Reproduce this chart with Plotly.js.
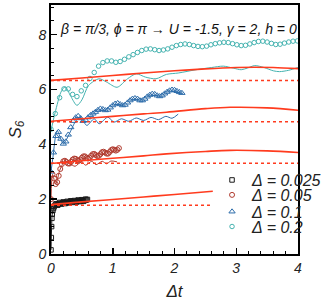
<!DOCTYPE html>
<html><head><meta charset="utf-8">
<script src="https://cdn.plot.ly/plotly-3.0.1.min.js"></script>
<style>html,body{margin:0;padding:0;background:#fff}#chart{width:332px;height:307px}</style>
</head><body><div id="chart"></div>
<script>
const legendLabels = ['Δ = 0.025', 'Δ = 0.05', 'Δ = 0.1', 'Δ = 0.2'];

// Δ = 0.025 (black squares)
const blackT = [0, 0.005, 0.01, 0.015, 0.02, 0.03, 0.04, 0.05, 0.065, 0.08, 0.095, 0.11, 0.125, 0.14, 0.155, 0.17, 0.185, 0.2, 0.215, 0.23, 0.245, 0.26, 0.275, 0.29, 0.305, 0.32, 0.335, 0.35, 0.365, 0.38, 0.395, 0.41, 0.425, 0.44, 0.455, 0.47, 0.485, 0.5, 0.515, 0.53, 0.545, 0.56, 0.575, 0.59];
const blackS = [0.15, 0.6, 1.0, 1.3, 1.45, 1.58, 1.66, 1.72, 1.78, 1.83, 1.80, 1.78, 1.84, 1.88, 1.84, 1.82, 1.86, 1.90, 1.87, 1.84, 1.88, 1.92, 1.89, 1.86, 1.90, 1.94, 1.91, 1.88, 1.92, 1.95, 1.92, 1.89, 1.93, 1.97, 1.94, 1.91, 1.95, 1.98, 1.95, 1.92, 1.96, 2.0, 1.97, 1.99];
const blackLineT = [0, 0.01, 0.02, 0.05, 0.1, 0.2, 0.3, 0.4, 0.5, 0.6];
const blackLineS = [0.15, 1.0, 1.45, 1.7, 1.8, 1.83, 1.85, 1.86, 1.87, 1.88];
const blackFitT = [0, 0.5, 1, 1.5, 2, 2.62];
const blackFitS = [1.80, 1.90, 1.99, 2.08, 2.17, 2.29];
const blackRefT = [0, 2.62];
const blackRefS = [1.78, 1.78];

// Δ = 0.05 (dark red circles)
const redT = [0, 0.025, 0.05, 0.075, 0.1, 0.125, 0.15, 0.175, 0.2, 0.225, 0.25, 0.275, 0.3, 0.325, 0.35, 0.375, 0.4, 0.425, 0.45, 0.475, 0.5, 0.525, 0.55, 0.575, 0.6, 0.625, 0.65, 0.675, 0.7, 0.725, 0.75, 0.775, 0.8, 0.825, 0.85, 0.875, 0.9, 0.925, 0.95, 0.975, 1.0, 1.025, 1.05, 1.075, 1.1];
const redS = [2.00, 2.90, 2.75, 2.55, 2.62, 2.85, 3.10, 3.28, 3.38, 3.40, 3.36, 3.30, 3.30, 3.36, 3.44, 3.48, 3.47, 3.42, 3.40, 3.44, 3.51, 3.56, 3.56, 3.51, 3.48, 3.51, 3.58, 3.64, 3.65, 3.61, 3.57, 3.58, 3.64, 3.71, 3.73, 3.70, 3.66, 3.66, 3.72, 3.79, 3.82, 3.80, 3.77, 3.80, 3.86];
const redLineT = [0, 0.025, 0.075, 0.15, 0.225, 0.3, 0.39, 0.49, 0.56, 0.66, 0.73, 0.83, 0.9, 0.97, 1.07];
const redLineS = [2.0, 2.9, 2.55, 3.1, 3.38, 3.3, 3.2, 3.36, 3.24, 3.38, 3.26, 3.38, 3.29, 3.39, 3.36];
const redFitT = [0, 0.5, 1, 1.5, 1.87, 2.5, 2.9, 3.5, 4];
const redFitS = [3.30, 3.40, 3.49, 3.58, 3.65, 3.74, 3.78, 3.76, 3.70];
const redRefT = [0, 4];
const redRefS = [3.31, 3.31];

// Δ = 0.1 (blue triangles)
const blueT = [0, 0.04, 0.08, 0.12, 0.16, 0.2, 0.24, 0.28, 0.32, 0.36, 0.4, 0.44, 0.48, 0.52, 0.56, 0.6, 0.64, 0.68, 0.72, 0.76, 0.8, 0.84, 0.88, 0.92, 0.96, 1.0, 1.04, 1.08, 1.12, 1.16, 1.2, 1.24, 1.28, 1.32, 1.36, 1.4, 1.44, 1.48, 1.52, 1.56, 1.6, 1.64, 1.68, 1.72, 1.76, 1.8, 1.84, 1.88, 1.92, 1.96, 2.0, 2.04, 2.08, 2.12];
const blueS = [3.00, 3.70, 4.30, 4.45, 4.20, 4.02, 4.10, 4.35, 4.62, 4.85, 4.98, 5.03, 4.95, 4.85, 4.88, 4.98, 5.06, 5.12, 5.18, 5.25, 5.30, 5.28, 5.24, 5.26, 5.34, 5.42, 5.48, 5.50, 5.46, 5.42, 5.44, 5.52, 5.60, 5.66, 5.68, 5.66, 5.60, 5.60, 5.66, 5.74, 5.80, 5.84, 5.83, 5.78, 5.75, 5.78, 5.85, 5.91, 5.96, 5.99, 5.98, 5.94, 5.90, 5.87];
const blueLineT = [0, 0.03, 0.1, 0.2, 0.3, 0.41, 0.49, 0.58, 0.7, 0.78, 0.92, 1.02, 1.14, 1.26, 1.38, 1.5, 1.62, 1.74, 1.86, 1.96, 2.06];
const blueLineS = [3.0, 3.5, 4.5, 4.02, 4.4, 4.87, 4.93, 4.69, 4.93, 4.75, 4.99, 4.81, 4.93, 4.84, 4.96, 4.87, 4.98, 4.90, 5.02, 4.95, 5.10];
const blueFitT = [0, 0.5, 1, 1.5, 1.87, 2.5, 2.9, 3.5, 4];
const blueFitS = [4.84, 4.93, 5.02, 5.11, 5.17, 5.30, 5.35, 5.33, 5.24];
const blueRefT = [0, 4];
const blueRefS = [4.82, 4.82];

// Δ = 0.2 (teal circles)
const tealT = [0, 0.07, 0.14, 0.21, 0.28, 0.35, 0.42, 0.49, 0.56, 0.63, 0.7, 0.77, 0.84, 0.91, 0.98, 1.05, 1.12, 1.19, 1.26, 1.33, 1.4, 1.47, 1.54, 1.61, 1.68, 1.75, 1.82, 1.89, 1.96, 2.03, 2.1, 2.17, 2.24, 2.31, 2.38, 2.45, 2.52, 2.59, 2.66, 2.73, 2.8, 2.87, 2.94, 3.01, 3.08, 3.15, 3.22, 3.29, 3.36, 3.43, 3.5, 3.57, 3.64, 3.71, 3.78, 3.85, 3.92, 3.99];
const tealS = [4.55, 5.12, 5.70, 6.02, 6.02, 5.82, 5.74, 5.95, 6.15, 6.40, 6.62, 6.85, 6.98, 7.04, 7.04, 6.99, 7.02, 7.10, 7.19, 7.27, 7.35, 7.42, 7.47, 7.48, 7.45, 7.42, 7.44, 7.48, 7.54, 7.60, 7.64, 7.66, 7.64, 7.60, 7.57, 7.56, 7.58, 7.63, 7.67, 7.70, 7.72, 7.71, 7.67, 7.63, 7.60, 7.61, 7.66, 7.71, 7.75, 7.76, 7.73, 7.68, 7.64, 7.65, 7.69, 7.73, 7.76, 7.77];
const tealLineT = [0, 0.05, 0.1, 0.16, 0.23, 0.32, 0.42, 0.5, 0.61, 0.78, 0.9, 1.07, 1.24, 1.38, 1.53, 1.7, 1.87, 2.06, 2.35, 2.6, 2.79, 2.95, 3.08, 3.18, 3.3, 3.45, 3.6, 3.7, 3.85, 4.0];
const tealLineS = [4.5, 5.0, 5.45, 5.9, 6.1, 5.75, 5.42, 5.62, 6.15, 6.39, 6.27, 6.08, 6.39, 6.57, 6.45, 6.39, 6.55, 6.6, 6.72, 6.8, 6.85, 6.78, 6.72, 6.78, 6.87, 6.8, 6.68, 6.65, 6.7, 6.8];
const tealFitT = [0, 0.5, 1, 1.5, 2, 2.5, 3, 3.3, 3.6, 4];
const tealFitS = [6.33, 6.42, 6.51, 6.60, 6.68, 6.75, 6.80, 6.81, 6.80, 6.76];
const tealRefT = [0, 4];
const tealRefS = [6.33, 6.33];

const cBlack = '#1a1a1a', cRed = '#b03a2e', cBlue = '#2c6caa', cTeal = '#45b3b0', cFit = '#ff3b1e';
const font = 'Liberation Sans, Arial, sans-serif';

function markers(x, y, sym, color, name, leg, size) {
  return {x, y, mode: 'markers', type: 'scatter', name, legend: leg,
    marker: {symbol: sym, size: size, color: color, line: {color: color, width: 1}}};
}
function thin(x, y, color) {
  return {x, y, mode: 'lines', type: 'scatter', showlegend: false,
    line: {color: color, width: 1, shape: 'spline', smoothing: 0.8}};
}
function fit(x, y) {
  return {x, y, mode: 'lines', type: 'scatter', showlegend: false,
    line: {color: cFit, width: 1.6, shape: 'spline'}};
}
function ref(x, y) {
  return {x, y, mode: 'lines', type: 'scatter', showlegend: false,
    line: {color: cFit, width: 1.5, dash: 'dot'}};
}

const data = [
  markers(tealT, tealS, 'circle-open', cTeal, legendLabels[3], 'legend4', 4.5),
  thin(tealLineT, tealLineS, cTeal),
  markers(blueT, blueS, 'triangle-up-open', cBlue, legendLabels[2], 'legend3', 5.5),
  thin(blueLineT, blueLineS, cBlue),
  markers(redT, redS, 'circle-open', cRed, legendLabels[1], 'legend2', 5),
  thin(redLineT, redLineS, cRed),
  markers(blackT, blackS, 'square-open', cBlack, legendLabels[0], 'legend', 4.5),
  thin(blackLineT, blackLineS, cBlack),
  fit(tealFitT, tealFitS), ref(tealRefT, tealRefS),
  fit(blueFitT, blueFitS), ref(blueRefT, blueRefS),
  fit(redFitT, redFitS), ref(redRefT, redRefS),
  fit(blackFitT, blackFitS), ref(blackRefT, blackRefS)
];

const legFont = {family: font, size: 16, style: 'italic', color: '#222'};
function leg(y) {
  return {x: 0.652, y: y, xanchor: 'left', yanchor: 'middle', bgcolor: 'rgba(0,0,0,0)',
    font: legFont, borderwidth: 0};
}
const tickFont = {family: font, size: 14, style: 'italic', color: '#222'};

const layout = {
  width: 332, height: 307,
  margin: {l: 51, r: 6, t: 5, b: 53},
  paper_bgcolor: '#fff', plot_bgcolor: '#fff',
  showlegend: true,
  legend: leg(0.297), legend2: leg(0.237), legend3: leg(0.170), legend4: leg(0.110),
  xaxis: {range: [0, 4], tickvals: [0, 1, 2, 3, 4], ticks: 'inside', ticklen: 6, tickwidth: 1.5,
    tickcolor: '#000', showgrid: false, zeroline: false, showline: true, linecolor: '#000', linewidth: 1.8,
    mirror: true, tickfont: tickFont,
    minor: {dtick: 0.2, ticks: 'inside', ticklen: 3, tickwidth: 1, tickcolor: '#000', showgrid: false},
    title: {text: 'Δt', font: {family: font, size: 17, style: 'italic', color: '#222'}, standoff: 10}},
  yaxis: {range: [0, 9.08], tickvals: [0, 2, 4, 6, 8], ticks: 'inside', ticklen: 6, tickwidth: 1.5,
    tickcolor: '#000', showgrid: false, zeroline: false, showline: true, linecolor: '#000', linewidth: 1.8,
    mirror: true, tickfont: tickFont,
    minor: {dtick: 0.5, ticks: 'inside', ticklen: 3, tickwidth: 1, tickcolor: '#000', showgrid: false},
    title: {text: 'S<sub>6</sub>', font: {family: font, size: 17, style: 'italic', color: '#222'}, standoff: 12}},
  annotations: [{
    xref: 'paper', yref: 'paper', x: 0.515, y: 0.905, xanchor: 'center', yanchor: 'middle', showarrow: false,
    text: 'β = π/3, ϕ = π → U = -1.5, γ = 2, h = 0',
    font: {family: font, size: 14, style: 'italic', color: '#111'}
  }]
};

Plotly.newPlot('chart', data, layout, {displayModeBar: false, staticPlot: true});
</script>
</body></html>
